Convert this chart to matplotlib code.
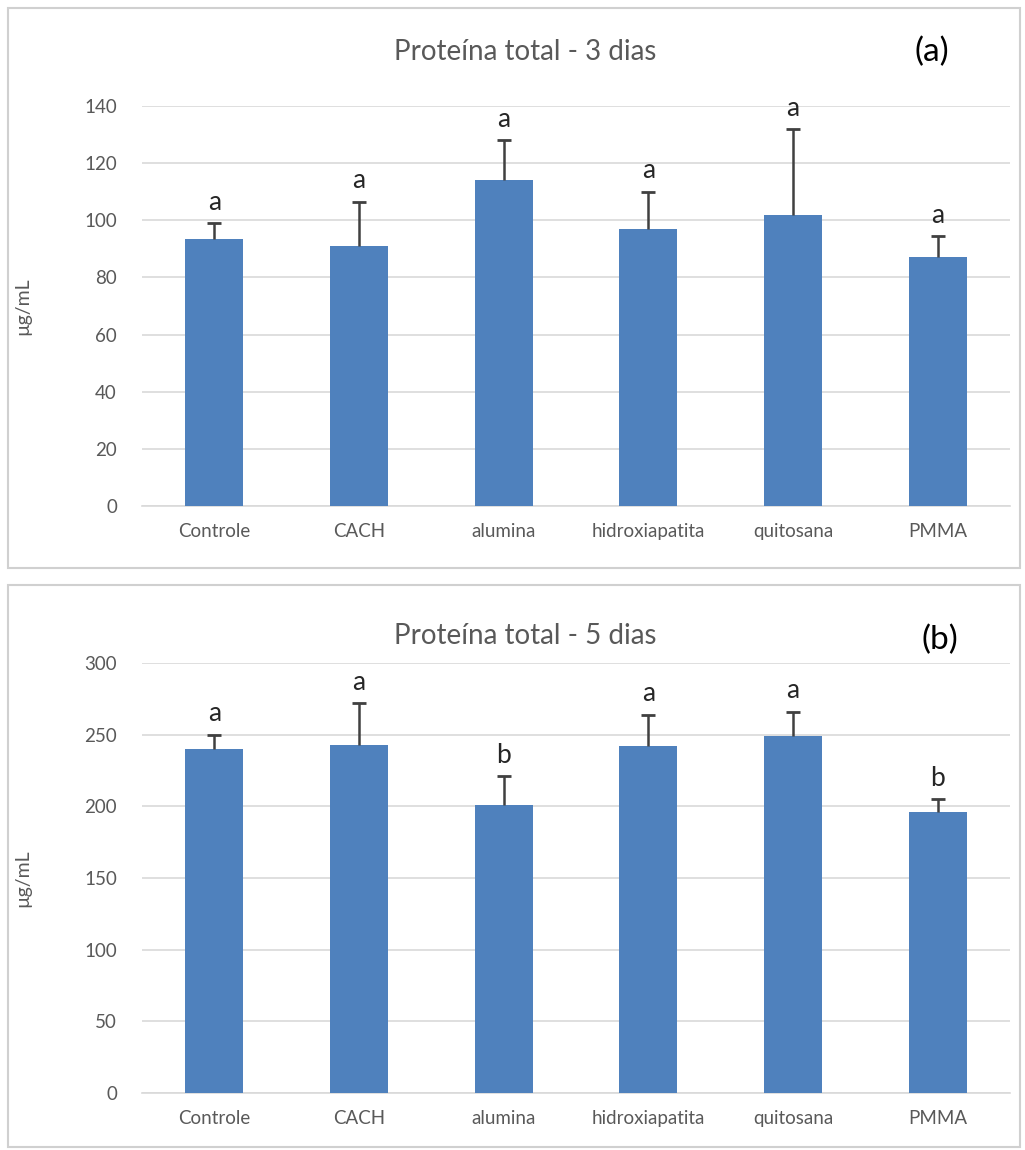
import numpy as np
import matplotlib.pyplot as plt
from matplotlib.patches import Rectangle

plt.rcParams['font.family'] = ['Lato', 'DejaVu Sans']

grupos = ['Controle', 'CACH', 'alumina', 'hidroxiapatita', 'quitosana', 'PMMA']

media_3d = [93.5, 91, 114, 97, 102, 87]
erro_3d = [5.5, 15.5, 14, 13, 30, 7.5]
letras_3d = ['a', 'a', 'a', 'a', 'a', 'a']

media_5d = [240, 243, 201, 242, 249, 196]
erro_5d = [10, 29, 20, 22, 17, 9]
letras_5d = ['a', 'a', 'b', 'a', 'a', 'b']

AZUL = '#4f81bd'
CINZA = '#595959'
GRADE = '#d9d9d9'

W, H = 1025, 1150
fig = plt.figure(figsize=(W / 100, H / 100), dpi=100)


def painel(rect, caixa, titulo, tag, tag_xy, titulo_y, media, erro, letras, ymax, passo):
    # moldura do painel
    x0, y0, x1, y1 = caixa
    fig.patches.append(Rectangle((x0 / W, 1 - y1 / H), (x1 - x0) / W, (y1 - y0) / H,
                                 transform=fig.transFigure, fill=False,
                                 edgecolor='#d0d0d0', linewidth=1.5))
    ax = fig.add_axes(rect)
    x = np.arange(len(grupos))
    media = np.array(media)
    topo = media + np.array(erro)
    ax.bar(x, media, width=0.4, color=AZUL, zorder=3)
    # barra de erro só para cima, com traço no topo
    ax.vlines(x, media, topo, color='#404040', linewidth=1.8, zorder=4)
    ax.plot(x, topo, linestyle='none', marker='_', markersize=10,
            markeredgewidth=2, color='#404040', zorder=4)
    for xi, t, l in zip(x, topo, letras):
        ax.annotate(l, (xi, t), xytext=(0, 6), textcoords='offset points',
                    ha='center', va='bottom', fontsize=19, color='#262626')
    ax.set_xlim(-0.5, len(grupos) - 0.5)
    ax.set_ylim(0, ymax)
    ax.set_yticks(np.arange(0, ymax + 1, passo))
    ax.set_xticks(x)
    ax.set_xticklabels(grupos)
    ax.yaxis.grid(True, color=GRADE, linewidth=1.2, zorder=0)
    for s in ['top', 'right', 'left']:
        ax.spines[s].set_visible(False)
    ax.spines['bottom'].set_color(GRADE)
    ax.spines['bottom'].set_linewidth(1.2)
    ax.tick_params(length=0, labelsize=13.5, labelcolor=CINZA)
    ax.tick_params(axis='x', pad=12)
    ax.tick_params(axis='y', pad=18)
    ax.set_ylabel('µg/mL', fontsize=14, color=CINZA)
    ax.yaxis.set_label_coords(-0.128, 0.5)
    fig.text(525 / W, 1 - titulo_y / H, titulo, ha='center', va='center',
             fontsize=20, color=CINZA)
    fig.text(tag_xy[0] / W, 1 - tag_xy[1] / H, tag, ha='center', va='center',
             fontsize=24, color='black')
    return ax


painel([142 / W, 1 - 506 / H, 868 / W, 400 / H], (8, 8, 1020, 568),
       'Proteína total - 3 dias', '(a)', (932, 52), 52,
       media_3d, erro_3d, letras_3d, 140, 20)
painel([142 / W, 1 - 1093 / H, 868 / W, 430 / H], (8, 585, 1020, 1147),
       'Proteína total - 5 dias', '(b)', (940, 640), 636,
       media_5d, erro_5d, letras_5d, 300, 50)

fig.savefig('out.png', dpi=100)
